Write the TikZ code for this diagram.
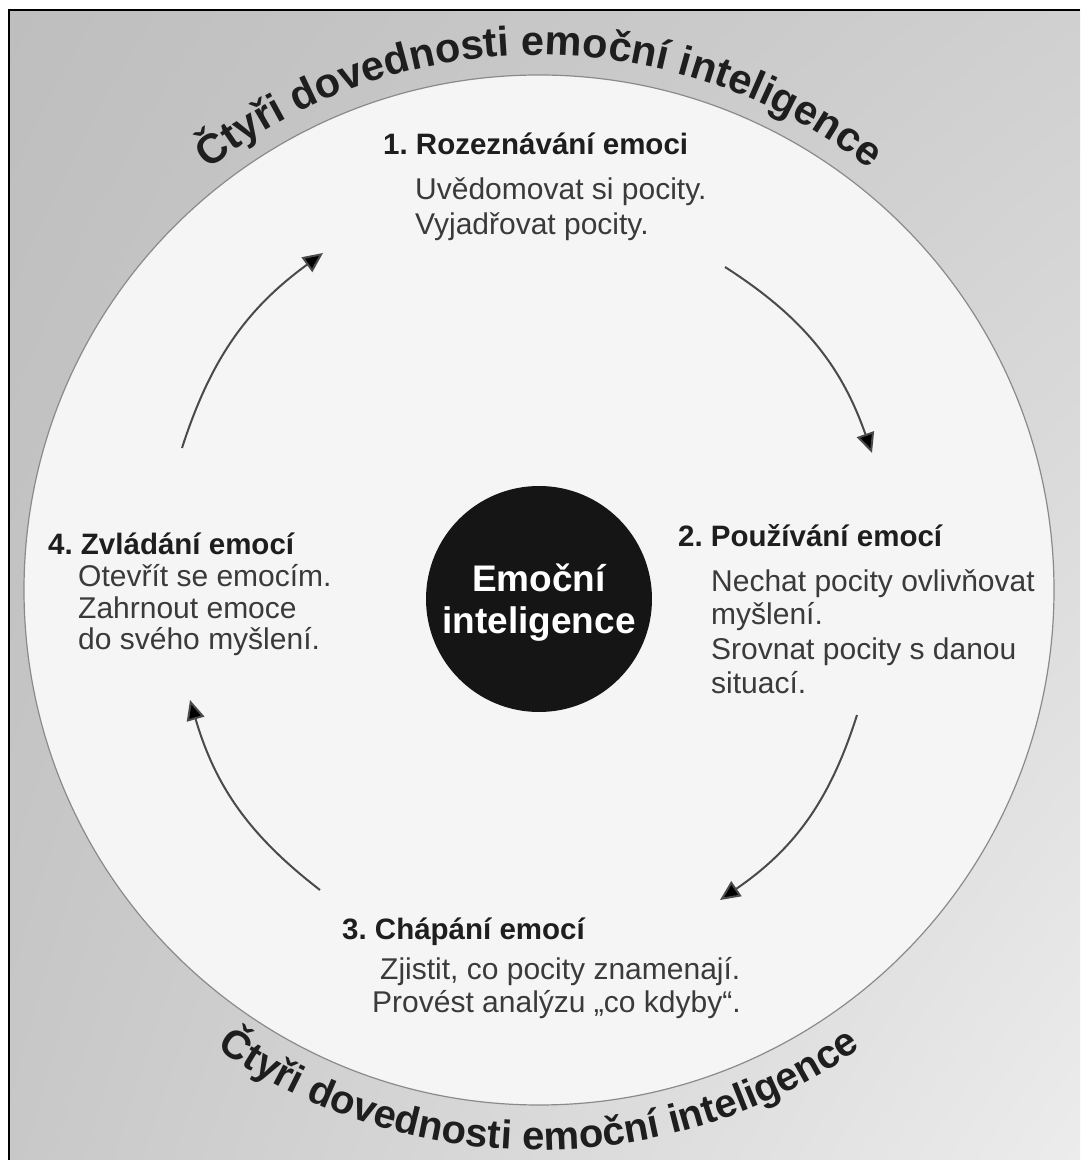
\documentclass[tikz,border=0pt]{standalone}
\usepackage{fontspec}
\setmainfont{Liberation Sans}
\usetikzlibrary{arrows.meta,decorations.text,shapes.geometric,shadings}
\definecolor{bgA}{HTML}{BEBEBE}
\definecolor{bgB}{HTML}{D0D0D0}
\definecolor{bgC}{HTML}{C8C8C8}
\definecolor{bgD}{HTML}{ECECEC}
\definecolor{discfill}{HTML}{F5F5F5}
\definecolor{discline}{HTML}{8A8A8A}
\definecolor{corefill}{HTML}{151515}
\definecolor{headc}{HTML}{1E1E1E}
\definecolor{bodyc}{HTML}{3A3A3A}
\definecolor{arrowc}{HTML}{4A4A4A}
\frenchspacing
\tikzset{
  headtxt/.style={anchor=base west, inner sep=0pt, font=\bfseries\fontsize{29.5}{34}\selectfont, text=headc},
  bodytxt/.style={anchor=base west, inner sep=0pt, font=\fontsize{30}{34}\selectfont, text=bodyc},
  cyclearrow/.style={draw=arrowc, line width=2pt, -{Triangle[length=20pt,width=18pt,fill=black]}},
  ringtxt/.style={decorate, decoration={text along path, text align=center, text color=headc}}
}
\begin{document}
\begin{tikzpicture}[x=1pt,y=1pt]
\useasboundingbox (0,0) rectangle (1080,1163);
% page background
\fill[white] (0,0) rectangle (1080,1163);
\shade[upper left=bgA, upper right=bgB, lower left=bgC, lower right=bgD] (9,3) rectangle (1080,1153);
\draw[black, line width=1.5pt] (9,3) -- (9,1153) -- (1080,1153);
% main disc
\node[circle, draw=discline, line width=1.2pt, fill=discfill, minimum size=1030pt, inner sep=0pt] (disc) at (539,573) {};
% curved titles
\path[ringtxt, decoration={text={|\bfseries\fontsize{41.5}{41.5}\selectfont|Čtyři dovednosti emoční inteligence}}]
  (disc.center) ++(141:535) arc[start angle=141, end angle=39, radius=535];
\path[ringtxt, decoration={text={|\bfseries\fontsize{40}{40}\selectfont|Čtyři dovednosti emoční inteligence}}]
  (disc.center) ++(220:560) arc[start angle=220, end angle=320, radius=560];
% core
\node[circle, fill=corefill, minimum size=226pt, inner sep=0pt] (core) at (539,564) {};
\node[text=white, font=\bfseries\fontsize{37}{42}\selectfont, align=center, inner sep=0pt] (coretxt) at (539,560) {Emoční\\inteligence};
% item 1
\node[headtxt] (h1) at (383,1008) {1. Rozeznávání emoci};
\node[bodytxt] (b1a) at (415,963) {Uvědomovat si pocity.};
\node[bodytxt] (b1b) at (415,928) {Vyjadřovat pocity.};
% item 2
\node[headtxt] (h2) at (678,616) {2. Používání emocí};
\node[bodytxt] (b2a) at (711,571) {Nechat pocity ovlivňovat};
\node[bodytxt] (b2b) at (711,538) {myšlení.};
\node[bodytxt] (b2c) at (711,503) {Srovnat pocity s danou};
\node[bodytxt] (b2d) at (711,469) {situací.};
% item 3
\node[headtxt] (h3) at (342,223) {3. Chápání emocí};
\node[bodytxt] (b3a) at (380,183) {Zjistit, co pocity znamenají.};
\node[bodytxt] (b3b) at (372,150) {Provést analýzu „co kdyby“.};
% item 4
\node[headtxt] (h4) at (48,608) {4. Zvládání emocí};
\node[bodytxt] (b4a) at (78,576) {Otevřít se emocím.};
\node[bodytxt] (b4b) at (78,544) {Zahrnout emoce};
\node[bodytxt] (b4c) at (78,513) {do svého myšlení.};
% arrows
\coordinate (as) at (182,715); \coordinate (ae) at (323,910);
\coordinate (bs) at (725,896); \coordinate (be) at (872,710);
\coordinate (cs) at (857,448); \coordinate (ce) at (720,263);
\coordinate (ds) at (320,273); \coordinate (de) at (190,463);
\draw[cyclearrow] (as) to[bend left=18] (ae);
\draw[cyclearrow] (bs) to[bend left=19] (be);
\draw[cyclearrow] (cs) to[bend left=19] (ce);
\draw[cyclearrow] (ds) to[bend left=18] (de);
\end{tikzpicture}
\end{document}
